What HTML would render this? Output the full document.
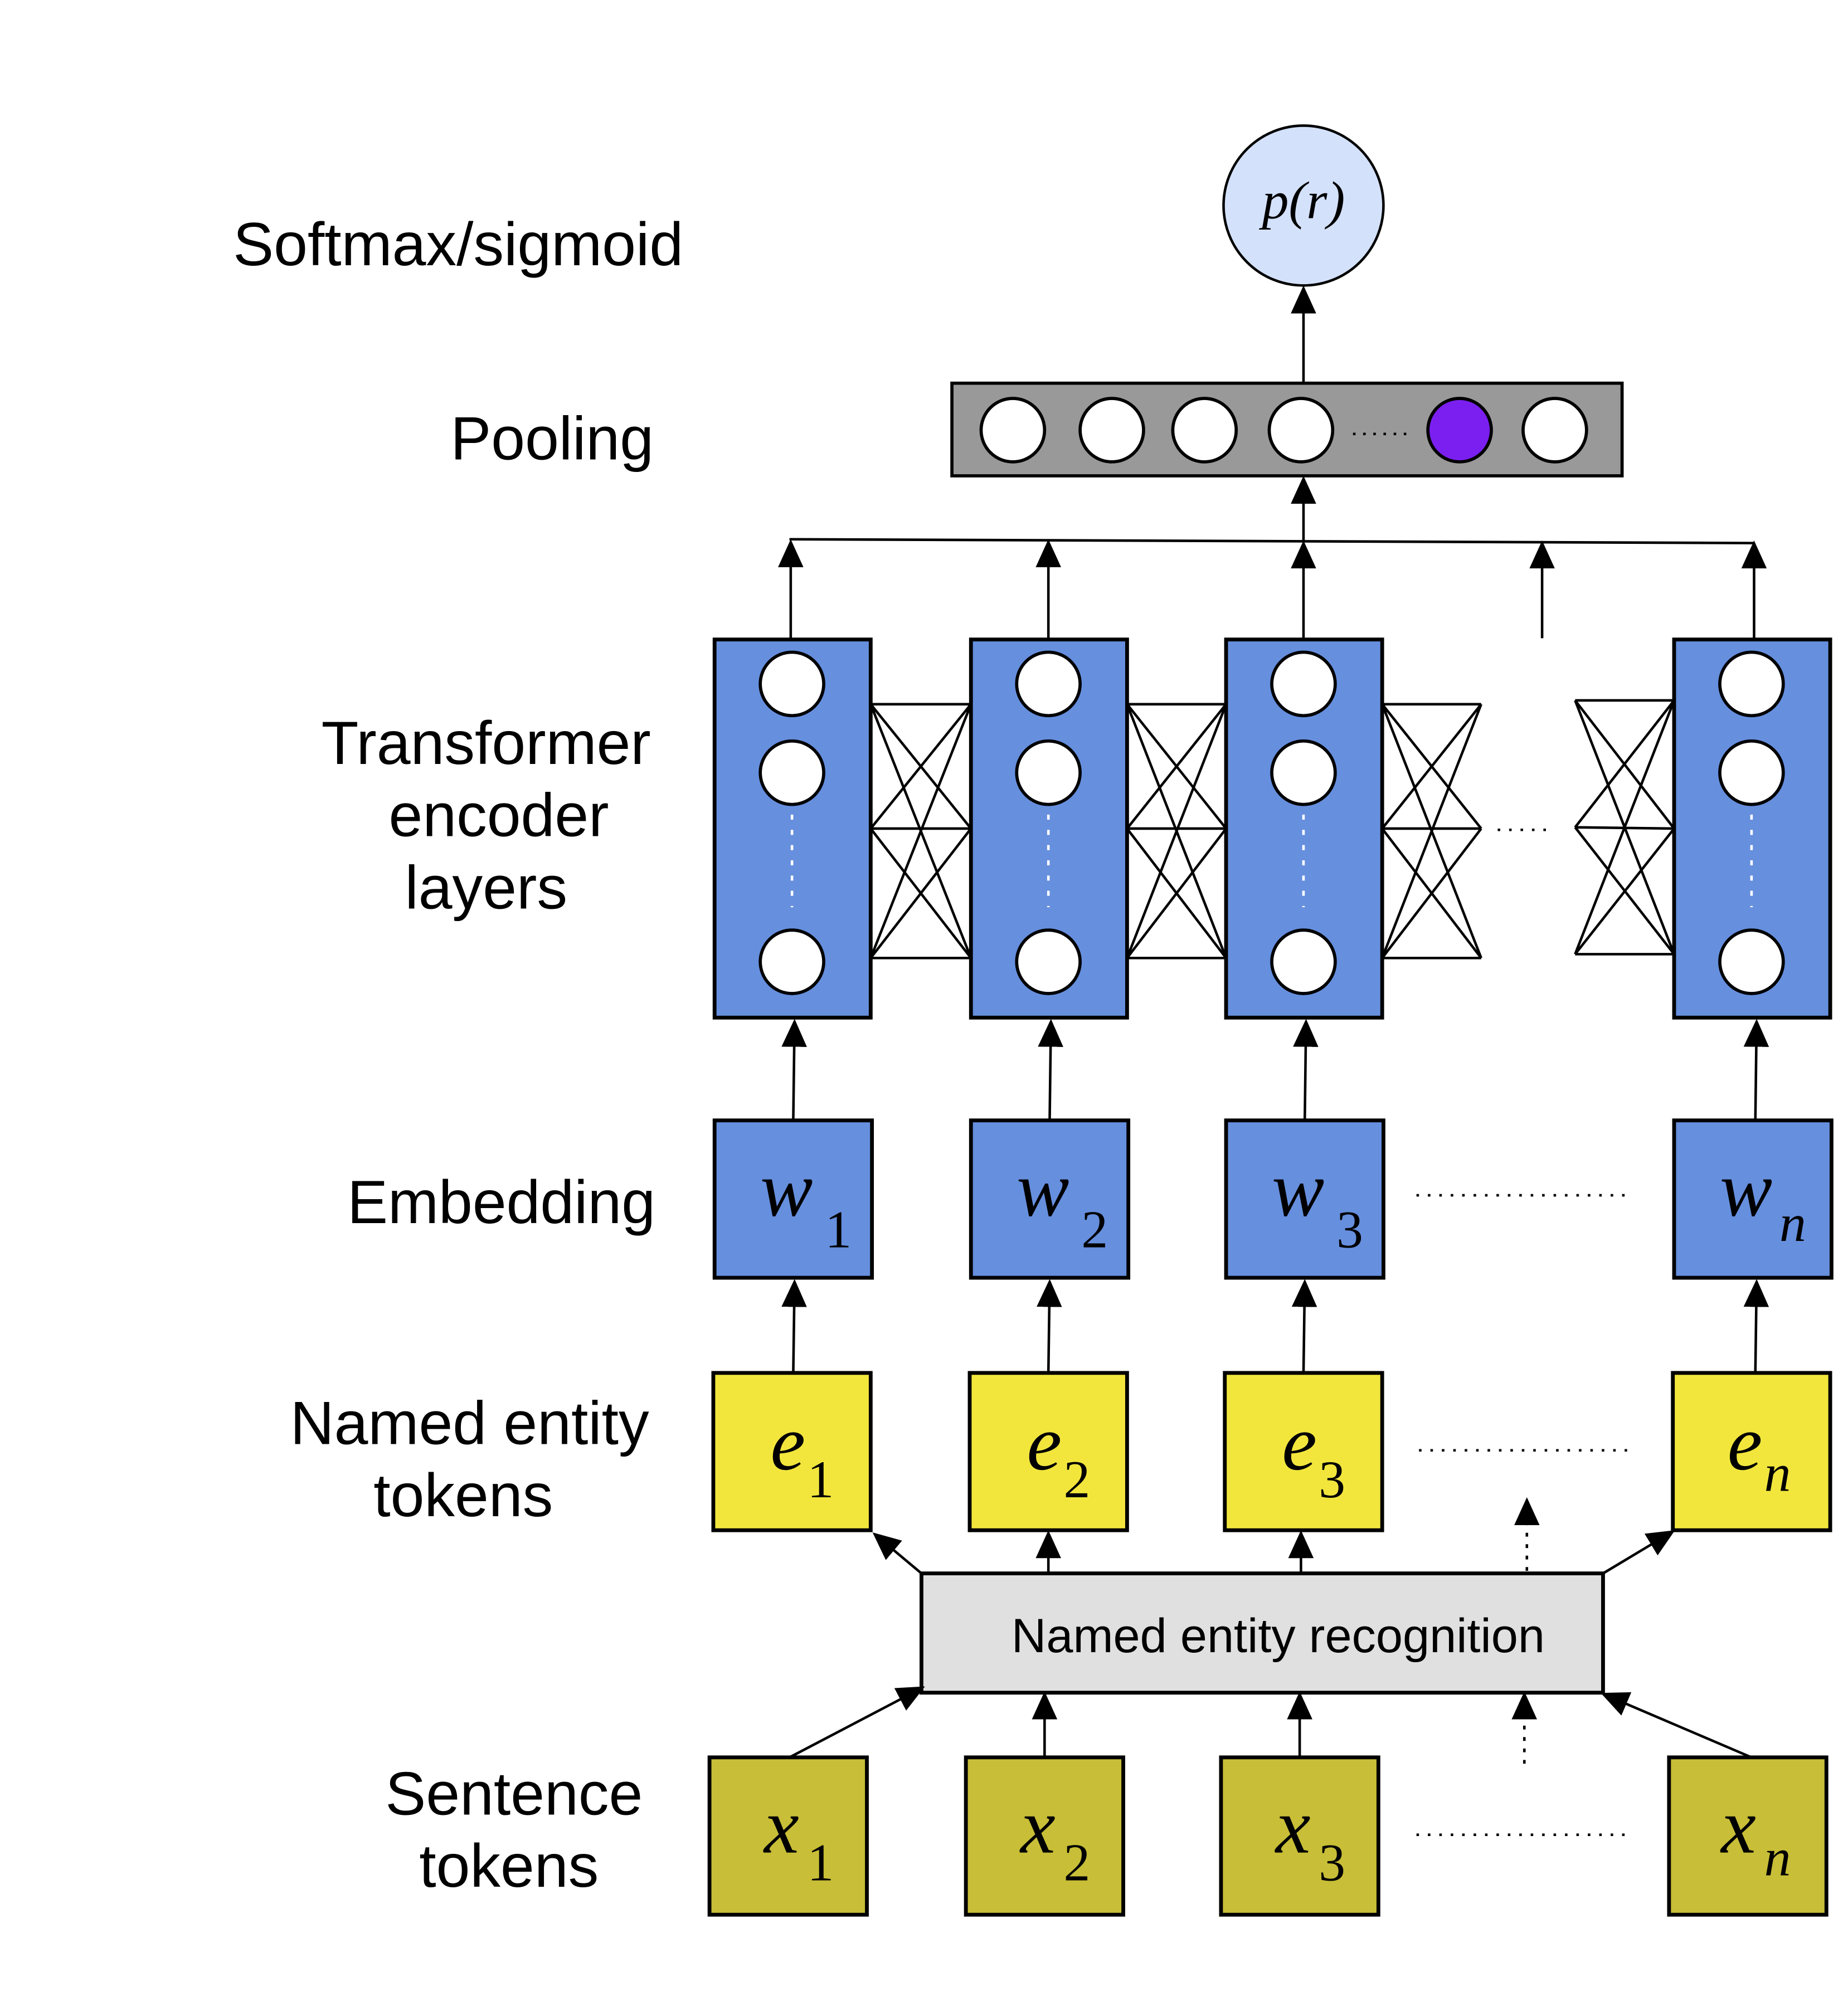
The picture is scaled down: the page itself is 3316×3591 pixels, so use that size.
<!DOCTYPE html>
<html><head><meta charset="utf-8"><style>html,body{margin:0;padding:0;background:#fff}svg{display:block}</style></head><body>
<svg width="3316" height="3591" viewBox="0 0 1456 1577" preserveAspectRatio="none" xmlns="http://www.w3.org/2000/svg">
<defs>
<marker id="b" markerWidth="22" markerHeight="20" refX="20" refY="10" orient="auto" markerUnits="userSpaceOnUse" viewBox="0 0 22 20"><path d="M0,0 L22,10 L0,20z" fill="#000"/></marker></defs>
<g font-family="Liberation Sans, sans-serif" font-size="48" fill="#000" text-anchor="middle">
<text x="361" y="209">Softmax/sigmoid</text>
<text x="435" y="362">Pooling</text>
<text x="383" y="602">Transformer</text><text x="393" y="659">encoder</text><text x="383" y="716">layers</text>
<text x="395" y="964">Embedding</text>
<text x="370" y="1138">Named entity</text><text x="365" y="1195">tokens</text>
<text x="405" y="1430">Sentence</text><text x="401" y="1487">tokens</text>
</g>
<circle cx="1027" cy="162" r="63" fill="#d4e1fb" stroke="#000" stroke-width="2"/>
<text x="1027" y="172" font-family="Liberation Serif, serif" font-style="italic" font-size="42" text-anchor="middle">p(r)</text>
<line x1="1027" y1="302" x2="1027" y2="227" stroke="#000" stroke-width="2" marker-end="url(#b)"/>
<rect x="750" y="302" width="528" height="73" fill="#999" stroke="#000" stroke-width="2.5"/>
<g stroke="#000" stroke-width="2.5" fill="#fff">
<circle cx="798" cy="339" r="25"/><circle cx="876" cy="339" r="25"/><circle cx="949" cy="339" r="25"/><circle cx="1025" cy="339" r="25"/><circle cx="1150" cy="339" r="25" fill="#7b1ff0"/><circle cx="1225" cy="339" r="25"/></g>
<line x1="1066" y1="342" x2="1108" y2="342" stroke="#000" stroke-width="2" stroke-dasharray="2,6"/>
<g stroke="#000" stroke-width="2">
<line x1="622" y1="425" x2="1382" y2="428"/>
<line x1="1027" y1="426" x2="1027" y2="377" marker-end="url(#b)"/>
<line x1="623" y1="503" x2="623" y2="427" marker-end="url(#b)"/>
<line x1="826" y1="503" x2="826" y2="427" marker-end="url(#b)"/>
<line x1="1027" y1="503" x2="1027" y2="428" marker-end="url(#b)"/>
<line x1="1215" y1="503" x2="1215" y2="428" marker-end="url(#b)"/>
<line x1="1382" y1="503" x2="1382" y2="428" marker-end="url(#b)"/>
</g>
<g stroke="#000" stroke-width="3" fill="#668fde">
<rect x="563" y="504" width="123" height="298"/><rect x="765" y="504" width="123" height="298"/><rect x="966" y="504" width="123" height="298"/><rect x="1319" y="504" width="123" height="298"/></g>
<g stroke="#000" stroke-width="2.5" fill="#fff">
<circle cx="624" cy="539" r="25"/><circle cx="624" cy="609" r="25"/><circle cx="624" cy="758" r="25"/>
<circle cx="826" cy="539" r="25"/><circle cx="826" cy="609" r="25"/><circle cx="826" cy="758" r="25"/>
<circle cx="1027" cy="539" r="25"/><circle cx="1027" cy="609" r="25"/><circle cx="1027" cy="758" r="25"/>
<circle cx="1380" cy="539" r="25"/><circle cx="1380" cy="609" r="25"/><circle cx="1380" cy="758" r="25"/></g>
<g stroke="#fff" stroke-width="2" stroke-dasharray="4,8">
<line x1="624" y1="642" x2="624" y2="715"/><line x1="826" y1="642" x2="826" y2="715"/><line x1="1027" y1="642" x2="1027" y2="715"/><line x1="1380" y1="642" x2="1380" y2="715"/></g>
<g stroke="#000" stroke-width="2" fill="none">
<path d="M686,555L765,555M686,555L765,653M686,555L765,755M686,653L765,555M686,653L765,653M686,653L765,755M686,755L765,555M686,755L765,653M686,755L765,755"/>
<path d="M888,555L966,555M888,555L966,653M888,555L966,755M888,653L966,555M888,653L966,653M888,653L966,755M888,755L966,555M888,755L966,653M888,755L966,755"/>
<path d="M1089,555L1167,555M1089,555L1167,653M1089,555L1167,755M1089,653L1167,555M1089,653L1167,653M1089,653L1167,755M1089,755L1167,555M1089,755L1167,653M1089,755L1167,755"/>
<path d="M1241,552L1319,552M1241,552L1319,653M1241,552L1319,752M1241,652L1319,552M1241,652L1319,653M1241,652L1319,752M1241,752L1319,552M1241,752L1319,653M1241,752L1319,752"/>
</g>
<line x1="1180" y1="654" x2="1222" y2="654" stroke="#000" stroke-width="2" stroke-dasharray="2,7"/>
<g stroke="#000" stroke-width="2">
<line x1="625" y1="883" x2="626" y2="805" marker-end="url(#b)"/>
<line x1="827" y1="883" x2="828" y2="805" marker-end="url(#b)"/>
<line x1="1028" y1="883" x2="1029" y2="805" marker-end="url(#b)"/>
<line x1="1383" y1="883" x2="1384" y2="805" marker-end="url(#b)"/>
</g>
<g stroke="#000" stroke-width="3" fill="#668fde">
<rect x="563" y="883" width="124" height="124"/><rect x="765" y="883" width="124" height="124"/><rect x="966" y="883" width="124" height="124"/><rect x="1319" y="883" width="124" height="124"/></g>
<g font-family="Liberation Serif, serif" font-size="62" font-style="italic">
<text x="599" y="958">w</text><text x="650" y="983" font-style="normal" font-size="42">1</text>
<text x="801" y="958">w</text><text x="852" y="983" font-style="normal" font-size="42">2</text>
<text x="1002" y="958">w</text><text x="1053" y="983" font-style="normal" font-size="42">3</text>
<text x="1355" y="958">w</text><text x="1402" y="978" font-size="42">n</text>
</g>
<line x1="1116" y1="942" x2="1280" y2="942" stroke="#000" stroke-width="2" stroke-dasharray="2,7"/>
<g stroke="#000" stroke-width="2">
<line x1="625" y1="1082" x2="626" y2="1010" marker-end="url(#b)"/>
<line x1="826" y1="1082" x2="827" y2="1010" marker-end="url(#b)"/>
<line x1="1027" y1="1082" x2="1028" y2="1010" marker-end="url(#b)"/>
<line x1="1383" y1="1082" x2="1384" y2="1010" marker-end="url(#b)"/>
</g>
<g stroke="#000" stroke-width="3" fill="#f2e63d">
<rect x="562" y="1082" width="124" height="124"/><rect x="764" y="1082" width="124" height="124"/><rect x="965" y="1082" width="124" height="124"/><rect x="1318" y="1082" width="124" height="124"/></g>
<g font-family="Liberation Serif, serif" font-size="62" font-style="italic">
<text x="607" y="1158">e</text><text x="636" y="1180" font-style="normal" font-size="42">1</text>
<text x="809" y="1158">e</text><text x="838" y="1180" font-style="normal" font-size="42">2</text>
<text x="1010" y="1158">e</text><text x="1039" y="1180" font-style="normal" font-size="42">3</text>
<text x="1361" y="1158">e</text><text x="1390" y="1175" font-size="42">n</text>
</g>
<line x1="1118" y1="1143" x2="1282" y2="1143" stroke="#000" stroke-width="2" stroke-dasharray="2,7"/>
<rect x="726" y="1240" width="537" height="94" fill="#e0e0e0" stroke="#000" stroke-width="3"/>
<text x="1007" y="1302" font-family="Liberation Sans, sans-serif" font-size="38" text-anchor="middle">Named entity recognition</text>
<g stroke="#000" stroke-width="2">
<line x1="726" y1="1240" x2="689" y2="1209" marker-end="url(#b)"/>
<line x1="826" y1="1240" x2="826" y2="1208" marker-end="url(#b)"/>
<line x1="1025" y1="1240" x2="1025" y2="1208" marker-end="url(#b)"/>
<line x1="1203" y1="1238" x2="1203" y2="1182" stroke-dasharray="3,6" marker-end="url(#b)"/>
<line x1="1263" y1="1240" x2="1318" y2="1207" marker-end="url(#b)"/>
<line x1="622" y1="1385" x2="727" y2="1330" marker-end="url(#b)"/>
<line x1="823" y1="1385" x2="823" y2="1335" marker-end="url(#b)"/>
<line x1="1024" y1="1385" x2="1024" y2="1335" marker-end="url(#b)"/>
<line x1="1201" y1="1390" x2="1201" y2="1335" stroke-dasharray="3,6" marker-end="url(#b)"/>
<line x1="1380" y1="1385" x2="1263" y2="1335" marker-end="url(#b)"/>
</g>
<g stroke="#000" stroke-width="3" fill="#c8be37">
<rect x="559" y="1385" width="124" height="124"/><rect x="761" y="1385" width="124" height="124"/><rect x="962" y="1385" width="124" height="124"/><rect x="1315" y="1385" width="124" height="124"/></g>
<g font-family="Liberation Serif, serif" font-size="62" font-style="italic">
<text x="602" y="1460">x</text><text x="636" y="1482" font-style="normal" font-size="42">1</text>
<text x="804" y="1460">x</text><text x="838" y="1482" font-style="normal" font-size="42">2</text>
<text x="1005" y="1460">x</text><text x="1039" y="1482" font-style="normal" font-size="42">3</text>
<text x="1356" y="1460">x</text><text x="1390" y="1478" font-size="42">n</text>
</g>
<line x1="1116" y1="1446" x2="1280" y2="1446" stroke="#000" stroke-width="2" stroke-dasharray="2,7"/>
</svg>
</body></html>
